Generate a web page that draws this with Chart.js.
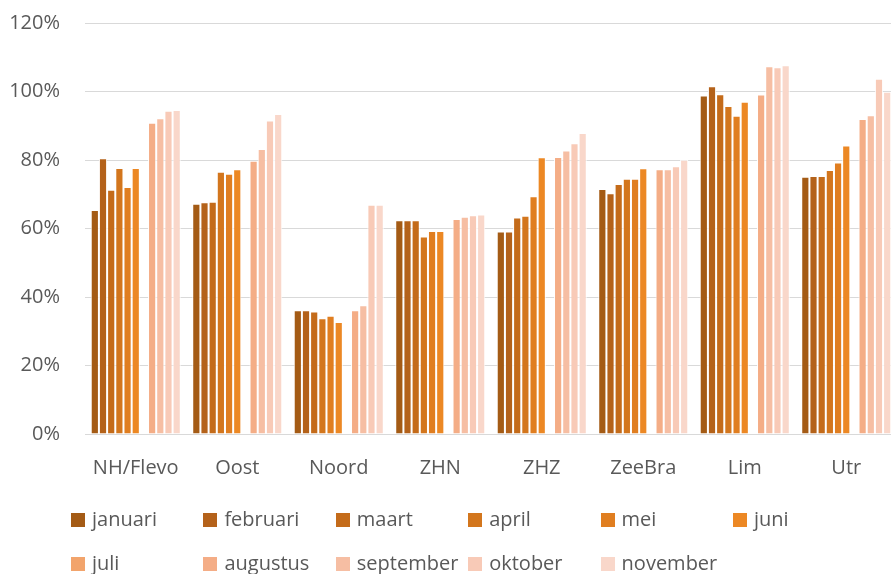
<!DOCTYPE html>
<html>
<head>
<meta charset="utf-8">
<script src="https://cdn.jsdelivr.net/npm/chart.js@4.4.1/dist/chart.umd.min.js"></script>
<style>
  html, body { margin: 0; padding: 0; background: #fff; width: 891px; height: 574px; overflow: hidden; }
  #wrap { position: relative; width: 897px; height: 490px; }
  #legend { position: absolute; left: 0; top: 0; width: 891px; height: 574px; pointer-events: none; }
  .item { position: absolute; height: 14px; font: 20px 'Open Sans', sans-serif; color: #595959; white-space: nowrap; }
  .item .box { position: absolute; left: 0; top: 0; width: 14px; height: 14px; }
  .item .txt { position: absolute; left: 21px; top: -8px; line-height: 28px; }
</style>
</head>
<body>
<div id="wrap"><canvas id="chart" width="897" height="490"></canvas></div>
<div id="legend"></div>
<script>
// Bezetting per regio, per maand (%)

const categories = ['NH/Flevo', 'Oost', 'Noord', 'ZHN', 'ZHZ', 'ZeeBra', 'Lim', 'Utr'];
const months = ['januari', 'februari', 'maart', 'april', 'mei', 'juni',
                'juli', 'augustus', 'september', 'oktober', 'november'];
const yTicks = [0, 20, 40, 60, 80, 100, 120];

const januari   = [65.4, 67.2, 36.1, 62.4, 59.1, 71.5,  98.8, 75.1];
const februari  = [80.5, 67.7, 36.1, 62.4, 59.1, 70.3, 101.5, 75.3];
const maart     = [71.3, 67.8, 35.8, 62.4, 63.2, 73.0,  99.2, 75.3];
const april     = [77.7, 76.6, 33.8, 57.7, 63.7, 74.5,  95.8, 77.1];
const mei       = [72.1, 76.0, 34.5, 59.3, 69.4, 74.5,  92.9, 79.3];
const juni      = [77.7, 77.3, 32.7, 59.3, 80.8, 77.6,  97.0, 84.2];
const juli      = [null, null, null, null, null, null,  null, null];
const augustus  = [90.9, 79.8, 36.1, 62.8, 80.9, 77.3,  99.1, 92.0];
const september = [92.2, 83.2, 37.6, 63.4, 82.8, 77.3, 107.4, 93.1];
const oktober   = [94.4, 91.5, 66.9, 63.9, 84.9, 78.2, 107.1, 103.7];
const november  = [94.6, 93.4, 66.9, 64.1, 87.9, 80.1, 107.7, 99.9];

const seriesValues = [januari, februari, maart, april, mei, juni,
                      juli, augustus, september, oktober, november];
const colors = ['#A45B15', '#B4621A', '#C46B1A', '#D3761D', '#E07E20', '#EC8824',
                '#F2A46C', '#F4AD86', '#F6BEA3', '#F8CAB7', '#F9D7CA'];

const FONT = "'Open Sans', sans-serif";
const GREY = '#595959';

const chart = new Chart(document.getElementById('chart'), {
  type: 'bar',
  data: {
    labels: categories,
    datasets: months.map((m, i) => ({
      label: m,
      data: seriesValues[i],
      backgroundColor: colors[i],
      borderColor: 'rgba(255,255,255,0.9)',
      borderWidth: 1,
      categoryPercentage: 0.887,
      barPercentage: 1
    }))
  },
  options: {
    responsive: false,
    animation: false,
    layout: { padding: { top: 23, right: 0, bottom: 0, left: 0 } },
    plugins: {
      legend: { display: false },
      tooltip: { enabled: false }
    },
    scales: {
      x: {
        grid: { display: false },
        border: { display: false },
        ticks: { font: { family: FONT, size: 20 }, color: GREY, padding: 14 },
        afterFit: (scale) => { scale.height = 56; }
      },
      y: {
        min: 0,
        max: 120,
        afterBuildTicks: (scale) => { scale.ticks = yTicks.map(v => ({ value: v })); },
        grid: { color: '#d9d9d9', lineWidth: 1, drawTicks: false },
        border: { display: false },
        ticks: {
          font: { family: FONT, size: 20 },
          color: GREY,
          padding: 25,
          callback: (v) => v + '%'
        },
        afterFit: (scale) => {
          // tick padding would otherwise push the plot area down
          scale.width = 85;
          scale.paddingTop = 0;
          scale.paddingBottom = 0;
        }
      }
    }
  }
});

// legend in vaste kolommen, zoals in het origineel
const legendEl = document.getElementById('legend');
months.forEach((m, i) => {
  const row = i < 6 ? 0 : 1;
  const col = i < 6 ? i : i - 6;
  const item = document.createElement('div');
  item.className = 'item';
  item.style.left = (71 + col * 132.4) + 'px';
  item.style.top = (row === 0 ? 512.5 : 557) + 'px';
  item.innerHTML = `<span class="box" style="background:${colors[i]}"></span><span class="txt">${m}</span>`;
  legendEl.appendChild(item);
});
</script>
</body>
</html>
